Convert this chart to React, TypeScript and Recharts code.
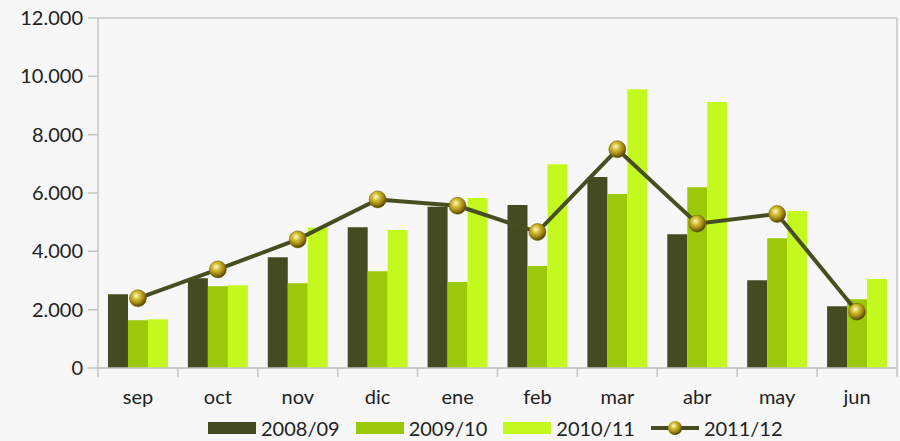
import React from "react";
import {
  ComposedChart,
  Bar,
  Line,
  XAxis,
  YAxis,
  CartesianGrid,
  Legend,
} from "recharts";

const months = ["sep", "oct", "nov", "dic", "ene", "feb", "mar", "abr", "may", "jun"];
const s0809 = [2530, 3080, 3800, 4830, 5530, 5590, 6550, 4590, 3010, 2120];
const s0910 = [1640, 2800, 2910, 3320, 2950, 3500, 5970, 6200, 4450, 2360];
const s1011 = [1670, 2840, 4820, 4730, 5830, 6990, 9560, 9120, 5380, 3050];
const s1112 = [2390, 3380, 4410, 5780, 5560, 4660, 7500, 4950, 5280, 1930];
const yTicks = [0, 2000, 4000, 6000, 8000, 10000, 12000];

const colors = {
  dark: "#434c20",
  mid: "#9bc908",
  light: "#c4f920",
  line: "#474e22",
  grid: "#c4c4c4",
};

const data = months.map((m, i) => ({
  month: m,
  a: s0809[i],
  b: s0910[i],
  c: s1011[i],
  d: s1112[i],
}));

const FONT = "Lato, 'DejaVu Sans', sans-serif";

const fmt = (v: number) =>
  v === 0 ? "0" : String(v).replace(/\B(?=(\d{3})+(?!\d))/g, ".");

// x tick: labels at centre, tick marks at the category boundaries
const MonthTick = (props: any) => {
  const { x, y, payload, index, width, visibleTicksCount } = props;
  const bw = width / visibleTicksCount;
  const top = y - 8;
  return (
    <g>
      <line x1={x - bw / 2} x2={x - bw / 2} y1={top} y2={top + 9} stroke={colors.grid} strokeWidth={1.5} />
      {index === visibleTicksCount - 1 && (
        <line x1={x + bw / 2} x2={x + bw / 2} y1={top} y2={top + 9} stroke={colors.grid} strokeWidth={1.5} />
      )}
      <text x={x} y={top + 36} textAnchor="middle" fill="#222" fontSize={20} fontFamily={FONT}>
        {payload.value}
      </text>
    </g>
  );
};

const Ball = (props: any) => {
  const { cx, cy } = props;
  if (cx == null || cy == null) return null;
  return <circle cx={cx} cy={cy} r={8.5} fill="url(#ballGrad)" stroke="#7a6a08" strokeWidth={0.6} />;
};

const legendItems = [
  { label: "2008/09", color: colors.dark, kind: "bar" },
  { label: "2009/10", color: colors.mid, kind: "bar" },
  { label: "2010/11", color: colors.light, kind: "bar" },
  { label: "2011/12", color: colors.line, kind: "line" },
];

const LegendContent = () => (
  <div
    style={{
      display: "flex",
      alignItems: "center",
      paddingLeft: 208,
      paddingTop: 19,
      fontFamily: FONT,
      fontSize: 20,
      color: "#222",
      lineHeight: "24px",
    }}
  >
    {legendItems.map((it) => (
      <div key={it.label} style={{ display: "flex", alignItems: "center", marginRight: 16 }}>
        {it.kind === "bar" ? (
          <div style={{ width: 48, height: 12, background: it.color, marginRight: 5 }} />
        ) : (
          <svg width={48} height={18} style={{ marginRight: 5 }}>
            <defs>
              <radialGradient id="ballGradL" cx="40%" cy="35%" r="65%">
                <stop offset="0%" stopColor="#fffbe0" />
                <stop offset="30%" stopColor="#dcc43a" />
                <stop offset="70%" stopColor="#9a8410" />
                <stop offset="100%" stopColor="#4e4000" />
              </radialGradient>
            </defs>
            <line x1={0} x2={48} y1={9} y2={9} stroke={it.color} strokeWidth={4} />
            <circle cx={24} cy={9} r={7} fill="url(#ballGradL)" />
          </svg>
        )}
        <span style={{ whiteSpace: "nowrap", minWidth: 77 }}>{it.label}</span>
      </div>
    ))}
  </div>
);

export default function App() {
  return (
    <div style={{ position: "absolute", left: 0, top: 0, width: 900, height: 441, background: "#f7f7f7" }}>
      <ComposedChart
        width={900}
        height={441}
        data={data}
        margin={{ top: 18, right: 0, left: 0, bottom: 0 }}
        barCategoryGap="12.5%"
        barGap={0}
      >
        <defs>
          <radialGradient id="ballGrad" cx="40%" cy="35%" r="65%">
            <stop offset="0%" stopColor="#fffbe0" />
            <stop offset="30%" stopColor="#dcc43a" />
            <stop offset="70%" stopColor="#9a8410" />
            <stop offset="100%" stopColor="#4e4000" />
          </radialGradient>
        </defs>
        <CartesianGrid vertical={false} stroke={colors.grid} strokeWidth={1.5} />
        <XAxis
          dataKey="month"
          height={29}
          axisLine={{ stroke: colors.grid, strokeWidth: 1.5 }}
          tickLine={false}
          tick={<MonthTick />}
          interval={0}
        />
        <YAxis
          yAxisId="left"
          width={98}
          domain={[0, 12000]}
          ticks={yTicks}
          tickFormatter={fmt}
          tickSize={10}
          tickMargin={5}
          axisLine={{ stroke: colors.grid, strokeWidth: 1.5 }}
          tickLine={{ stroke: colors.grid, strokeWidth: 1.5 }}
          tick={{ fill: "#222", fontSize: 20, fontFamily: FONT }}
        />
        <YAxis
          yAxisId="right"
          orientation="right"
          width={3}
          domain={[0, 12000]}
          tick={false}
          tickLine={false}
          axisLine={{ stroke: colors.grid, strokeWidth: 1.5 }}
        />
        <Legend verticalAlign="bottom" height={44} content={<LegendContent />} wrapperStyle={{ left: 0, width: 900 }} />
        <Bar yAxisId="left" dataKey="a" name="2008/09" fill={colors.dark} isAnimationActive={false} />
        <Bar yAxisId="left" dataKey="b" name="2009/10" fill={colors.mid} isAnimationActive={false} />
        <Bar yAxisId="left" dataKey="c" name="2010/11" fill={colors.light} isAnimationActive={false} />
        <Line
          yAxisId="left"
          dataKey="d"
          name="2011/12"
          stroke={colors.line}
          strokeWidth={4}
          dot={<Ball />}
          activeDot={false}
          isAnimationActive={false}
        />
      </ComposedChart>
    </div>
  );
}
